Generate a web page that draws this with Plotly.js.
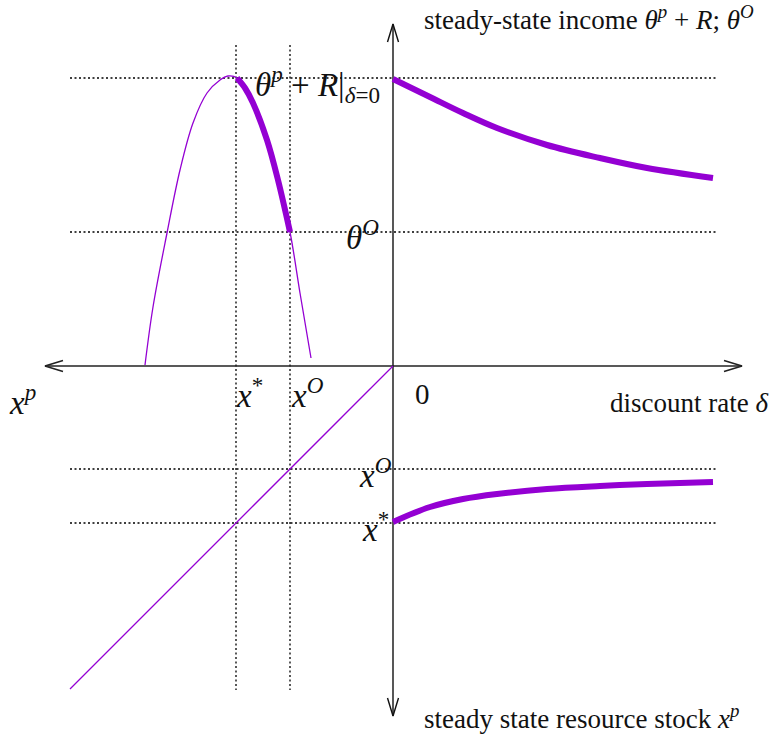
<!DOCTYPE html>
<html>
<head>
<meta charset="utf-8">
<script src="https://cdn.plot.ly/plotly-3.0.1.min.js"></script>
<style>
  html, body { margin: 0; padding: 0; background: #fff; }
  #chart { width: 784px; height: 740px; }
</style>
</head>
<body>
<div id="chart"></div>
<script>
// steady-state income against resource stock (left half, thin curve)
var stockX = [-248, -240, -226, -213, -200, -186, -173, -165, -156, -140, -126, -115, -103, -93, -82];
var incomeY = [1, 59, 133, 196, 243, 273, 286, 290, 288, 263, 226, 186, 134, 73, 8];

// the part reached for delta >= 0 (thick)
var optStockX = [-156, -148, -140, -126, -115, -103];
var optIncomeY = [288, 278, 263, 226, 186, 134];

// discount rate (right half)
var deltaX = [0, 37, 70, 104, 154, 207, 254, 320];
var incomeDelta = [287, 269, 253, 238, 221, 208, 198, 188];
var stockDelta = [-156, -141, -133, -128, -123, -120, -118, -116];

// 45 degree mapping x^p -> x^p
var diagX = [-323, 0];
var diagY = [-323, 0];

// reference levels: theta^p+R, theta^O, x^O, x*
var levelsY = [288, 134, -103, -157];
var levelsX = [-157, -103];

var purple = "#9400d3";
var serif = "Liberation Serif, DejaVu Serif, serif";

var traces = [];

// dotted guides
levelsY.forEach(function (v) {
    traces.push({ x: [-323, 323], y: [v, v], mode: "lines",
        line: { color: "#000", width: 1.3, dash: "2px,2.5px" } });
});
levelsX.forEach(function (v) {
    traces.push({ x: [v, v], y: [321, -324], mode: "lines",
        line: { color: "#000", width: 1.3, dash: "2px,2.5px" } });
});

// axes with open arrowheads
var axLeft = -348, axRight = 349, axTop = 342, axBottom = -350;
var aL = 18, aW = 5.5;
traces.push({ x: [axLeft, axRight], y: [0, 0], mode: "lines", line: { color: "#222", width: 1.6 } });
traces.push({ x: [0, 0], y: [axBottom, axTop], mode: "lines", line: { color: "#111", width: 1.4 } });
traces.push({ x: [axLeft + aL, axLeft, axLeft + aL], y: [aW, 0, -aW], mode: "lines", line: { color: "#222", width: 1.6 } });
traces.push({ x: [axRight - aL, axRight, axRight - aL], y: [aW, 0, -aW], mode: "lines", line: { color: "#222", width: 1.6 } });
traces.push({ x: [-aW, 0, aW], y: [axTop - aL, axTop, axTop - aL], mode: "lines", line: { color: "#111", width: 1.4 } });
traces.push({ x: [-aW, 0, aW], y: [axBottom + aL, axBottom, axBottom + aL], mode: "lines", line: { color: "#111", width: 1.4 } });

// curves
traces.push({ x: stockX, y: incomeY, mode: "lines", line: { color: purple, width: 1.3, shape: "spline" } });
traces.push({ x: optStockX, y: optIncomeY, mode: "lines", line: { color: purple, width: 6, shape: "spline" } });
traces.push({ x: diagX, y: diagY, mode: "lines", line: { color: purple, width: 1.3 } });
traces.push({ x: deltaX, y: incomeDelta, mode: "lines", line: { color: purple, width: 6, shape: "spline" } });
traces.push({ x: deltaX, y: stockDelta, mode: "lines", line: { color: purple, width: 6, shape: "spline" } });

function label(x, y, text, size, xanchor) {
    return { x: x, y: y, xref: "x", yref: "y", text: text, showarrow: false,
        xanchor: xanchor || "center", yanchor: "middle",
        font: { family: serif, size: size, color: "#111" } };
}

var annotations = [
    label(29, 348, "steady-state income <i>θ<sup>p</sup></i> + <i>R</i>; <i>θ<sup>O</sup></i>", 27, "left"),
    label(-140, 282, "<i>θ<sup>p</sup></i> + <i>R</i>|<sub><i>δ</i>=0</sub>", 33, "left"),
    label(-31, 131, "<i>θ<sup>O</sup></i>", 33),
    label(-371, -34, "<i>x<sup>p</sup></i>", 33),
    label(-144, -27, "<i>x</i><sup>*</sup>", 33),
    label(-86, -27, "<i>x<sup>O</sup></i>", 33),
    label(29, -28, "0", 29),
    label(377, -37, "discount rate <i>δ</i>", 27, "right"),
    label(-18, -107, "<i>x<sup>O</sup></i>", 33),
    label(-18, -161, "<i>x</i><sup>*</sup>", 33),
    label(29, -351, "steady state resource stock <i>x<sup>p</sup></i>", 27, "left")
];

var layout = {
    width: 784, height: 740,
    margin: { l: 0, r: 0, t: 0, b: 0 },
    paper_bgcolor: "#fff", plot_bgcolor: "#fff",
    showlegend: false,
    xaxis: { range: [-393, 391], visible: false, fixedrange: true },
    yaxis: { range: [-374, 366], visible: false, fixedrange: true },
    annotations: annotations
};

Plotly.newPlot("chart", traces, layout, { staticPlot: true });
</script>
</body>
</html>
